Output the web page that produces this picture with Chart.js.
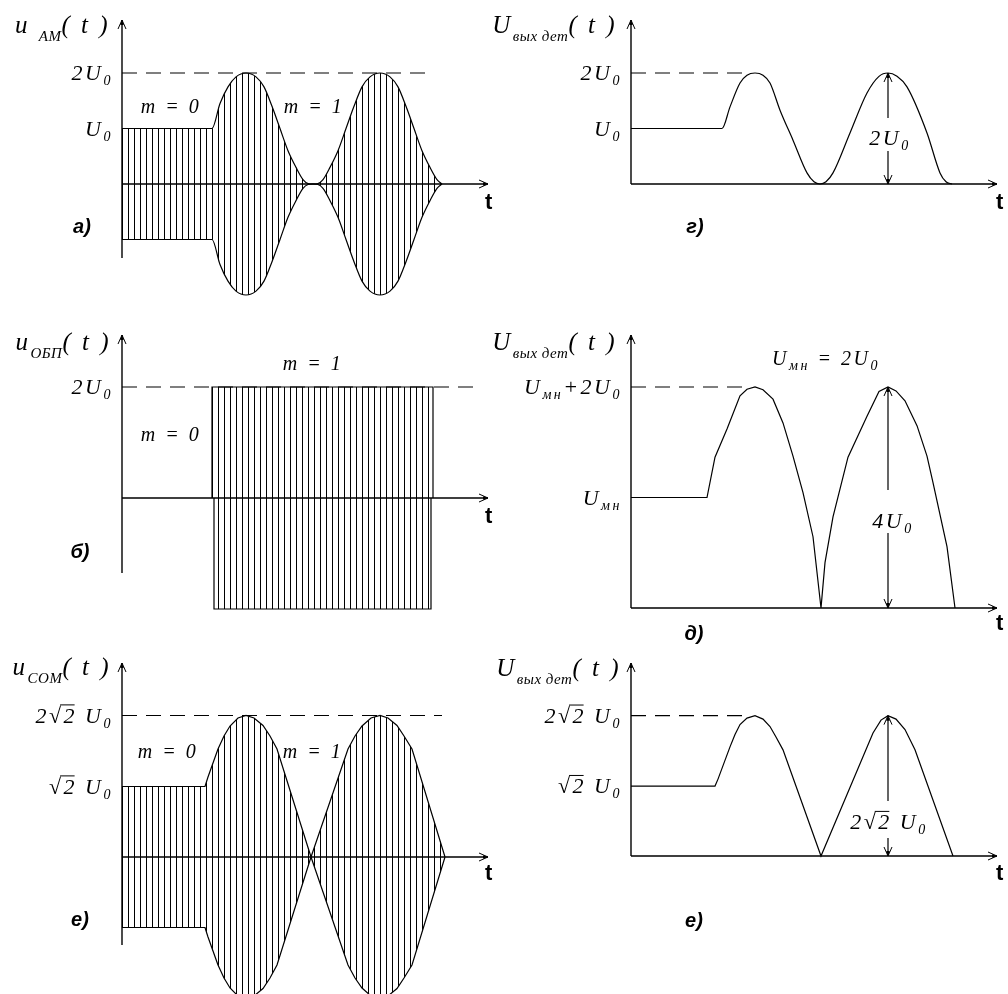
<!DOCTYPE html>
<html>
<head>
<meta charset="utf-8">
<script src="https://cdn.jsdelivr.net/npm/chart.js@4/dist/chart.umd.min.js"></script>
<style>
  body { margin: 0; background: #fff; width: 1008px; height: 994px; overflow: hidden; position: relative; }
  canvas { position: absolute; }
</style>
</head>
<body>
<canvas id="pa"></canvas>
<canvas id="pg"></canvas>
<canvas id="pb"></canvas>
<canvas id="pd"></canvas>
<canvas id="pv"></canvas>
<canvas id="pe"></canvas>
<script>
// time axis runs 0..366 (arbitrary units), amplitudes in units of U0

// а) AM signal envelope
const amT = [0, 90, 98, 106, 114, 124, 134, 142, 150, 158, 166, 174, 181, 186, 191, 196, 201, 208, 216, 224, 232, 240, 248, 258, 268, 276, 284, 292, 300, 308, 315, 320];
const amEnv = [1, 1, 1.45, 1.75, 1.93, 2, 1.93, 1.75, 1.4, 1.0, 0.6, 0.3, 0.08, 0.01, 0, 0.01, 0.08, 0.3, 0.6, 1.0, 1.4, 1.75, 1.93, 2, 1.93, 1.75, 1.4, 1.0, 0.6, 0.3, 0.08, 0];
const amLevelT = [0, 306];
const amLevel = [2, 2];
const amTicks = [1, 2];
const amTickLabels = ['U_0', '2U_0'];

// б) SSB signal (rectangular burst)
const ssbUpT = [90, 90, 311, 311];
const ssbUp = [0, 2, 2, 0];
const ssbLowT = [92, 92, 309, 309];
const ssbLow = [0, -2, -2, 0];
const ssbLevelT = [0, 358];
const ssbLevel = [2, 2];
const ssbTicks = [2];
const ssbTickLabels = ['2U_0'];

// в) СОМ signal envelope
const comT = [0, 83, 86, 96, 102, 108, 116, 124, 132, 141, 148, 155, 189, 226, 233, 240, 249, 258, 266, 275, 282, 290, 323];
const comEnv = [1.41, 1.41, 1.6, 2.16, 2.42, 2.62, 2.78, 2.83, 2.78, 2.63, 2.42, 2.16, 0, 2.16, 2.42, 2.62, 2.78, 2.83, 2.78, 2.63, 2.42, 2.16, 0];
const comLevelT = [0, 320];
const comLevel = [2.83, 2.83];
const comTicks = [1.41, 2.83];
const comTickLabels = ['√2 U_0', '2√2 U_0'];

// г) detector output for AM
const detAmT = [0, 91, 99, 109, 116, 124, 132, 139, 149, 162, 176, 183, 189, 195, 202, 219, 236, 248, 257, 266, 276, 296, 309, 315, 321];
const detAm = [1, 1, 1.39, 1.82, 1.96, 2, 1.96, 1.82, 1.33, 0.79, 0.2, 0.04, 0, 0.04, 0.2, 0.92, 1.64, 1.94, 2, 1.94, 1.75, 0.92, 0.2, 0.04, 0];
const detAmLevelT = [0, 114];
const detAmLevel = [2, 2];
const detAmSpan = [257, 0, 2];

// д) detector output for SSB with restored carrier
const detSsbT = [0, 76, 84, 96, 109, 116, 124, 132, 142, 152, 162, 172, 182, 190, 194, 202, 217, 236, 248, 257, 265, 274, 286, 296, 302, 316, 324];
const detSsb = [2, 2, 2.73, 3.24, 3.84, 3.96, 4, 3.95, 3.78, 3.35, 2.75, 2.09, 1.29, 0, 0.82, 1.65, 2.73, 3.47, 3.92, 4, 3.93, 3.75, 3.3, 2.75, 2.27, 1.11, 0];
const detSsbLevelT = [0, 114];
const detSsbLevel = [4, 4];
const detSsbTicks = [2, 4];
const detSsbTickLabels = ['U_{мн}', 'U_{мн}+2U_0'];
const detSsbSpan = [257, 0, 4];

// е) detector output for СОМ
const detComT = [0, 84, 87, 99, 104, 109, 116, 124, 132, 139, 145, 152, 190, 242, 250, 257, 265, 274, 284, 322];
const detCom = [1.41, 1.41, 1.55, 2.2, 2.45, 2.65, 2.78, 2.83, 2.76, 2.61, 2.4, 2.14, 0, 2.48, 2.74, 2.83, 2.76, 2.55, 2.14, 0];
const detComLevelT = [0, 114];
const detComLevel = [2.83, 2.83];
const detComSpan = [257, 0, 2.83];

const MATH_FONT = '"Liberation Serif", "DejaVu Serif", serif';
const BOLD_FONT = '"Liberation Sans", Arial, sans-serif';

function pts(ts, vs) {
  return ts.map((t, i) => ({ x: t, y: vs[i] }));
}
function neg(vs) {
  return vs.map(v => -v);
}

// text with _x or _{xyz} subscripts
function parseRich(s) {
  const parts = [];
  let buf = '';
  let i = 0;
  while (i < s.length) {
    if (s[i] === '_') {
      if (buf) { parts.push({ t: buf, sub: false }); buf = ''; }
      if (s[i + 1] === '{') {
        const j = s.indexOf('}', i);
        parts.push({ t: s.slice(i + 2, j), sub: true });
        i = j + 1;
      } else {
        parts.push({ t: s[i + 1], sub: true });
        i += 2;
      }
    } else {
      buf += s[i];
      i++;
    }
  }
  if (buf) parts.push({ t: buf, sub: false });
  return parts;
}

function drawRich(ctx, str, x, y, align, size, subSize, subDy, spacing, subSpacing) {
  const parts = parseRich(str);
  const main = `italic ${size}px ${MATH_FONT}`;
  const sub = `italic ${subSize}px ${MATH_FONT}`;
  const sp = q => (q.sub && subSpacing != null ? subSpacing : spacing);
  let w = 0;
  parts.forEach(p => {
    ctx.font = p.sub ? sub : main;
    ctx.letterSpacing = sp(p) + 'px';
    p.w = ctx.measureText(p.t).width;
    w += p.w;
  });
  let cx = align === 'right' ? x - w : align === 'center' ? x - w / 2 : x;
  ctx.textAlign = 'left';
  ctx.textBaseline = 'alphabetic';
  parts.forEach(p => {
    ctx.font = p.sub ? sub : main;
    ctx.letterSpacing = sp(p) + 'px';
    ctx.fillText(p.t, cx, p.sub ? y + subDy : y);
    // vinculum over the radicand
    const k = p.t.indexOf('√');
    if (!p.sub && k >= 0) {
      const a = cx + ctx.measureText(p.t.slice(0, k + 1)).width - spacing - 1;
      const b = cx + ctx.measureText(p.t.slice(0, k + 2)).width - spacing;
      ctx.save();
      ctx.lineWidth = 1;
      ctx.beginPath();
      ctx.moveTo(a, y - size * 0.8);
      ctx.lineTo(b, y - size * 0.8);
      ctx.stroke();
      ctx.restore();
    }
    cx += p.w;
  });
  ctx.letterSpacing = '0px';
}

// arrow tip at (x, y), pointing along (dx, dy)
function arrowHead(ctx, x, y, dx, dy) {
  const px = -dy, py = dx;
  ctx.beginPath();
  ctx.moveTo(x - dx * 9 + px * 4, y - dy * 9 + py * 4);
  ctx.lineTo(x, y);
  ctx.lineTo(x - dx * 9 - px * 4, y - dy * 9 - py * 4);
  ctx.stroke();
  ctx.beginPath();
  ctx.moveTo(x, y);
  ctx.lineTo(x - dx * 5 + px * 1.8, y - dy * 5 + py * 1.8);
  ctx.lineTo(x - dx * 5 - px * 1.8, y - dy * 5 - py * 1.8);
  ctx.closePath();
  ctx.fill();
}

function makeStripes(ctx, offset) {
  const c = document.createElement('canvas');
  c.width = 6;
  c.height = 6;
  const g = c.getContext('2d');
  g.fillStyle = '#000';
  g.fillRect(offset % 6, 0, 1, 6);
  return ctx.createPattern(c, 'repeat');
}

function makeDecor(p) {
  const cl = p.box[0], ct = p.box[1];
  return {
    id: 'decor',
    afterDatasetsDraw(chart) {
      const ctx = chart.ctx;
      const xs = chart.scales.x, ys = chart.scales.y;
      const x0 = xs.getPixelForValue(0);
      const y0 = ys.getPixelForValue(0);
      const area = chart.chartArea;
      ctx.save();
      ctx.strokeStyle = '#000';
      ctx.fillStyle = '#000';
      ctx.lineWidth = 1.4;
      // axes
      const yb = p.axisBottom != null ? p.axisBottom - ct : y0;
      ctx.beginPath();
      ctx.moveTo(x0, yb);
      ctx.lineTo(x0, area.top);
      ctx.moveTo(x0, y0);
      ctx.lineTo(area.right, y0);
      ctx.stroke();
      ctx.lineWidth = 1;
      arrowHead(ctx, x0, area.top, 0, -1);
      arrowHead(ctx, area.right, y0, 1, 0);
      // span arrow with label
      if (p.span) {
        const sx = xs.getPixelForValue(p.span.v[0]);
        const ya = ys.getPixelForValue(p.span.v[1]);
        const yz = ys.getPixelForValue(p.span.v[2]);
        ctx.lineWidth = 1.2;
        ctx.beginPath();
        ctx.moveTo(sx, ya);
        ctx.lineTo(sx, p.span.gap[1] - ct);
        ctx.moveTo(sx, p.span.gap[0] - ct);
        ctx.lineTo(sx, yz);
        ctx.stroke();
        ctx.lineWidth = 1;
        arrowHead(ctx, sx, ya, 0, 1);
        arrowHead(ctx, sx, yz, 0, -1);
        drawRich(ctx, p.span.label, p.span.at[0] - cl, p.span.at[1] - ct, 'center', 22, 14, 5, 2.5);
      }
      // tick labels
      p.ticks.forEach((v, i) => {
        drawRich(ctx, p.tickLabels[i], x0 - 9, ys.getPixelForValue(v) + 7, 'right', 22, 14, 5, 2.5);
      });
      // axis title
      drawRich(ctx, p.title[0], p.title[1] - cl, p.title[2] - ct, 'right', 25, 15, 8, 2.5, 0.5);
      // notes
      (p.notes || []).forEach(n => {
        drawRich(ctx, n[0], n[1] - cl, n[2] - ct, 'center', 20, 14, 5, 2.5);
      });
      // panel letter and "t"
      ctx.letterSpacing = '0px';
      ctx.textBaseline = 'alphabetic';
      ctx.textAlign = 'center';
      ctx.font = `bold italic 20px ${BOLD_FONT}`;
      ctx.fillText(p.letter[0], p.letter[1] - cl, p.letter[2] - ct);
      ctx.textAlign = 'left';
      ctx.font = `bold 22px ${BOLD_FONT}`;
      ctx.fillText('t', p.tLabel[0] - cl, p.tLabel[1] - ct);
      ctx.restore();
    },
  };
}

const panels = [
  {
    id: 'pa', box: [0, 0, 500, 325], origin: [122, 184], tip: 488, top: 20, bottom: 300, ppu: 55.5, axisBottom: 258,
    series: [
      { t: amT, v: amEnv, fill: true, smooth: true },
      { t: amT, v: neg(amEnv), fill: true, smooth: true },
      { t: amLevelT, v: amLevel, dash: true },
    ],
    ticks: amTicks, tickLabels: amTickLabels,
    title: ['u _{AM}( t )', 110, 33],
    notes: [['m = 0', 171, 113], ['m = 1', 314, 113]],
    letter: ['а)', 82, 233], tLabel: [485, 209],
  },
  {
    id: 'pg', box: [486, 0, 522, 325], origin: [631, 184], tip: 997, top: 20, bottom: 300, ppu: 55.5,
    series: [
      { t: detAmT, v: detAm, smooth: true },
      { t: detAmLevelT, v: detAmLevel, dash: true },
    ],
    ticks: amTicks, tickLabels: amTickLabels,
    title: ['U_{вых дет}( t )', 617, 33],
    span: { v: detAmSpan, gap: [118, 151], label: '2U_0', at: [890, 145] },
    letter: ['г)', 695, 233], tLabel: [996, 209],
  },
  {
    id: 'pb', box: [0, 325, 500, 320], origin: [122, 498], tip: 488, top: 335, bottom: 615, ppu: 55.5, axisBottom: 573,
    series: [
      { t: ssbUpT, v: ssbUp, fill: true },
      { t: ssbLowT, v: ssbLow, fill: true },
      { t: ssbLevelT, v: ssbLevel, dash: true },
    ],
    ticks: ssbTicks, tickLabels: ssbTickLabels,
    title: ['u_{ОБП}( t )', 111, 350],
    notes: [['m = 1', 313, 370], ['m = 0', 171, 441]],
    letter: ['б)', 80, 558], tLabel: [485, 523],
  },
  {
    id: 'pd', box: [486, 325, 522, 320], origin: [631, 608], tip: 997, top: 335, bottom: 615, ppu: 55.25,
    series: [
      { t: detSsbT, v: detSsb },
      { t: detSsbLevelT, v: detSsbLevel, dash: true },
    ],
    ticks: detSsbTicks, tickLabels: detSsbTickLabels,
    title: ['U_{вых дет}( t )', 617, 350],
    notes: [['U_{мн} = 2U_0', 826, 365]],
    span: { v: detSsbSpan, gap: [490, 533], label: '4U_0', at: [893, 528] },
    letter: ['д)', 694, 640], tLabel: [996, 630],
  },
  {
    id: 'pv', box: [0, 645, 500, 349], origin: [122, 857], tip: 488, top: 663, bottom: 994, ppu: 50, axisBottom: 945,
    series: [
      { t: comT, v: comEnv, fill: true },
      { t: comT, v: neg(comEnv), fill: true },
      { t: comLevelT, v: comLevel, dash: true },
    ],
    ticks: comTicks, tickLabels: comTickLabels,
    title: ['u_{COM}( t )', 111, 675],
    notes: [['m = 0', 168, 758], ['m = 1', 313, 758]],
    letter: ['е)', 80, 926], tLabel: [485, 880],
  },
  {
    id: 'pe', box: [486, 645, 522, 349], origin: [631, 856], tip: 997, top: 663, bottom: 994, ppu: 49.6,
    series: [
      { t: detComT, v: detCom },
      { t: detComLevelT, v: detComLevel, dash: true },
    ],
    ticks: comTicks, tickLabels: comTickLabels,
    title: ['U_{вых дет}( t )', 621, 676],
    span: { v: detComSpan, gap: [801, 838], label: '2√2 U_0', at: [889, 829] },
    letter: ['е)', 694, 927], tLabel: [996, 880],
  },
];

panels.forEach(p => {
  const cv = document.getElementById(p.id);
  const [cl, ct, cw, ch] = p.box;
  cv.width = cw;
  cv.height = ch;
  cv.style.left = cl + 'px';
  cv.style.top = ct + 'px';
  const ctx = cv.getContext('2d');
  const stripes = makeStripes(ctx, p.origin[0] - cl);
  new Chart(ctx, {
    type: 'line',
    data: {
      datasets: p.series.map(s => ({
        data: pts(s.t, s.v),
        borderColor: '#000',
        borderWidth: 1.2,
        borderDash: s.dash ? [15, 9] : [],
        pointRadius: 0,
        fill: s.fill ? 'origin' : false,
        backgroundColor: s.fill ? stripes : 'rgba(0,0,0,0)',
        tension: 0,
        cubicInterpolationMode: s.smooth ? 'monotone' : 'default',
      })),
    },
    options: {
      responsive: false,
      animation: false,
      events: [],
      layout: {
        padding: {
          left: p.origin[0] - cl,
          right: cl + cw - p.tip,
          top: p.top - ct,
          bottom: ct + ch - p.bottom,
        },
      },
      scales: {
        x: { type: 'linear', display: false, min: 0, max: p.tip - p.origin[0] },
        y: {
          type: 'linear',
          display: false,
          min: -(p.bottom - p.origin[1]) / p.ppu,
          max: (p.origin[1] - p.top) / p.ppu,
        },
      },
      plugins: { legend: { display: false }, tooltip: { enabled: false } },
    },
    plugins: [makeDecor(p)],
  });
});
</script>
</body>
</html>
